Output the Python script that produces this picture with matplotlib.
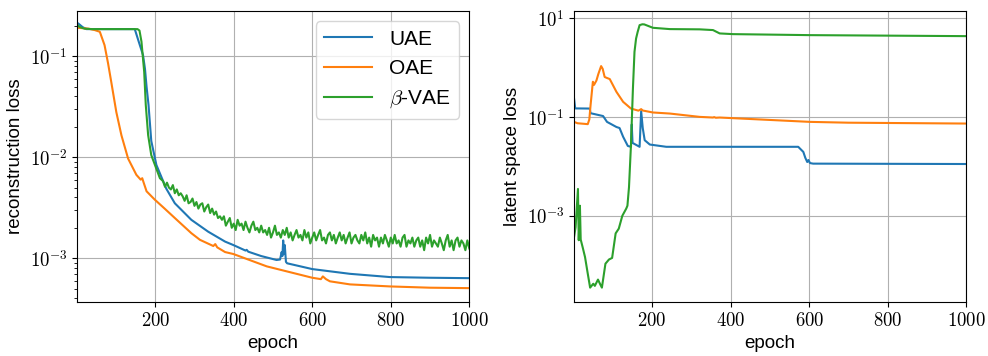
import numpy as np
import matplotlib
matplotlib.use("Agg")
from matplotlib import pyplot as plt
from matplotlib.ticker import FixedLocator, FuncFormatter, NullLocator, LogLocator

plt.rcParams['font.family'] = ['Liberation Sans', 'DejaVu Sans']
plt.rcParams['mathtext.fontset'] = 'cm'
plt.rcParams['font.size'] = 13.5

# ---- reconstruction loss (left) ----
uae_rec_ep = [1, 5, 15, 25, 148, 158, 169, 174, 178, 183, 190, 203, 228, 250, 292, 335, 378, 399,
              430, 433, 437, 470, 509, 518, 522, 524, 526, 528, 530, 533, 536, 600, 696, 798, 900, 1000]
uae_rec = [0.215, 0.21, 0.195, 0.186, 0.186, 0.14, 0.103, 0.075, 0.05, 0.033, 0.0145, 0.0084, 0.0049,
           0.0035, 0.0024, 0.00183, 0.00146, 0.00135, 0.00119, 0.00121, 0.00116, 0.00105, 0.00096,
           0.00097, 0.00115, 0.00105, 0.0015, 0.0011, 0.00135, 0.00092, 0.00089, 0.00078, 0.0007,
           0.00065, 0.00064, 0.000634]

oae_rec_ep = [1, 30, 46, 59, 71, 80, 88, 101, 114, 131, 152, 163, 167, 170, 178, 199, 224, 250, 292,
              314, 348, 353, 358, 378, 399, 484, 600, 622, 627, 635, 645, 696, 798, 900, 1000]
oae_rec = [0.192, 0.188, 0.182, 0.175, 0.129, 0.085, 0.056, 0.028, 0.0165, 0.0097, 0.0067, 0.0060,
           0.0062, 0.0057, 0.0046, 0.0038, 0.0031, 0.0025, 0.00177, 0.00152, 0.00132, 0.00138,
           0.00128, 0.00115, 0.0011, 0.00083, 0.00064, 0.00062, 0.00066, 0.00062, 0.00059, 0.00055,
           0.000525, 0.00051, 0.000505]

vae_rec_ep_a = [1, 8, 20, 40, 100, 155, 160, 165, 172, 176, 182, 190, 203, 212]
vae_rec_a = [0.205, 0.195, 0.188, 0.186, 0.186, 0.186, 0.18, 0.14, 0.07, 0.033, 0.0166, 0.0105,
             0.0077, 0.0062]
vae_rec_ep_b = list(range(220, 1001, 5))
vae_rec_b = [
    0.0058, 0.0051, 0.0056, 0.0050, 0.0048, 0.0053, 0.0044, 0.0048, 0.0042, 0.0044,
    0.0041, 0.0037, 0.0042, 0.0035, 0.0036, 0.0039, 0.0033, 0.0036, 0.0031, 0.0034,
    0.0035, 0.0029, 0.0032, 0.0034, 0.0028, 0.0031, 0.0027, 0.0029, 0.0025, 0.0026,
    0.0024, 0.0026, 0.0021, 0.0023, 0.0025, 0.0020, 0.0022, 0.0019, 0.0024, 0.0021,
    0.0022, 0.0019, 0.0023, 0.0020, 0.0018, 0.0021, 0.0023, 0.0019, 0.0020, 0.0018,
    0.0021, 0.0018, 0.0019, 0.0017, 0.0020, 0.0016, 0.0018, 0.0021, 0.0017, 0.0018,
    0.0016, 0.0019, 0.0017, 0.0020, 0.0016, 0.0018, 0.0015, 0.0017, 0.0019, 0.0016,
    0.0017, 0.0015, 0.0019, 0.0016, 0.0018, 0.0014, 0.0016, 0.0018, 0.0015, 0.0017,
    0.0019, 0.0015, 0.0016, 0.0014, 0.0017, 0.0018, 0.0015, 0.0017, 0.0014, 0.0016,
    0.0018, 0.0015, 0.0017, 0.0014, 0.0016, 0.0018, 0.0014, 0.0016, 0.0017, 0.0015,
    0.0014, 0.0017, 0.0015, 0.0018, 0.0014, 0.0016, 0.0013, 0.0017, 0.0015, 0.0016,
    0.0013, 0.0016, 0.0014, 0.0017, 0.0015, 0.0013, 0.0016, 0.0014, 0.0017, 0.0014,
    0.0015, 0.0013, 0.0016, 0.0017, 0.0013, 0.0015, 0.0014, 0.0016, 0.0013, 0.0015,
    0.0016, 0.0013, 0.0015, 0.0012, 0.0016, 0.0014, 0.0017, 0.0013, 0.0015, 0.0014,
    0.0013, 0.0016, 0.0014, 0.0012, 0.0015, 0.0017, 0.0013, 0.0015, 0.0012, 0.0015,
    0.0016, 0.0013, 0.0015, 0.0014, 0.0012, 0.0015, 0.00125]
vae_rec_ep = vae_rec_ep_a + vae_rec_ep_b
vae_rec = vae_rec_a + vae_rec_b

# ---- latent space loss (right) ----
uae_lat_ep = [1, 4, 41, 43, 75, 85, 109, 117, 126, 138, 146, 148, 150, 168, 172, 176, 181, 194,
              236, 572, 585, 590, 595, 598, 602, 610, 1000]
uae_lat = [0.24, 0.15, 0.149, 0.12, 0.105, 0.08, 0.063, 0.06, 0.04, 0.026, 0.025, 0.071, 0.03,
           0.025, 0.132, 0.06, 0.034, 0.0278, 0.025, 0.025, 0.0197, 0.015, 0.0123, 0.0135,
           0.0117, 0.0114, 0.0112]

oae_lat_ep = [1, 10, 36, 40, 43, 49, 52, 58, 63, 70, 74, 79, 85, 92, 109, 126, 146, 165, 172, 176,
              202, 245, 321, 355, 358, 362, 372, 602, 700, 1000]
oae_lat = [0.08, 0.075, 0.072, 0.09, 0.17, 0.52, 0.45, 0.55, 0.75, 1.08, 0.95, 0.65, 0.62, 0.59,
           0.325, 0.204, 0.149, 0.135, 0.145, 0.136, 0.124, 0.118, 0.101, 0.098, 0.1, 0.097,
           0.098, 0.08, 0.077, 0.074]

vae_lat_ep = [1, 5, 11, 13, 16, 18, 23, 29, 36, 42, 50, 54, 62, 67, 72, 81, 90, 98, 107, 115, 124,
              134, 137, 141, 146, 151, 155, 159, 163, 168, 175, 180, 202, 245, 321, 355, 372, 406,
              602, 1000]
vae_lat = [3.7e-4, 5.9e-4, 0.0035, 3.2e-4, 0.0016, 3.3e-4, 2.3e-4, 1.46e-4, 6.7e-5, 3.5e-5, 4.2e-5,
           3.8e-5, 5.1e-5, 4.2e-5, 3.5e-5, 1.07e-4, 1.3e-4, 1.4e-4, 4.4e-4, 5.5e-4, 1.0e-3,
           1.4e-3, 1.6e-3, 3.8e-3, 0.027, 0.38, 2.1, 3.9, 5.3, 7.3, 7.6, 7.55, 6.45, 6.07, 6.0,
           5.8, 4.96, 4.8, 4.58, 4.37]

labels = ['UAE', 'OAE', r'$\beta$-VAE']
colors = ['#1f77b4', '#ff7f0e', '#2ca02c']

fig = plt.figure(figsize=(9.88, 3.56), dpi=100)
ax1 = fig.add_axes([0.078, 0.152, 0.397, 0.817])
ax2 = fig.add_axes([0.581, 0.152, 0.397, 0.817])

ax1.plot(uae_rec_ep, uae_rec, color=colors[0], label=labels[0])
ax1.plot(oae_rec_ep, oae_rec, color=colors[1], label=labels[1])
ax1.plot(vae_rec_ep, vae_rec, color=colors[2], label=labels[2])

ax2.plot(uae_lat_ep, uae_lat, color=colors[0])
ax2.plot(oae_lat_ep, oae_lat, color=colors[1])
ax2.plot(vae_lat_ep, vae_lat, color=colors[2])

xfmt = FuncFormatter(lambda v, p: r'$%d$' % v)
yfmt = FuncFormatter(lambda v, p: r'$10^{%d}$' % int(round(np.log10(v))))

for ax in (ax1, ax2):
    ax.set_yscale('log')
    ax.set_xlim(1, 1000)
    ax.xaxis.set_major_locator(FixedLocator([200, 400, 600, 800, 1000]))
    ax.xaxis.set_major_formatter(xfmt)
    ax.yaxis.set_major_formatter(yfmt)
    ax.grid(True, which='major', color='#b0b0b0', linewidth=0.8)
    ax.set_xlabel('epoch')
    ax.tick_params(labelsize=13.5)

ax1.set_ylim(3.69e-4, 0.281)
ax1.yaxis.set_major_locator(FixedLocator([1e-3, 1e-2, 1e-1]))
ax1.yaxis.set_minor_locator(LogLocator(base=10, subs=np.arange(2, 10)))
ax1.yaxis.set_minor_formatter(FuncFormatter(lambda v, p: ''))
ax1.set_ylabel('reconstruction loss')

ax2.set_ylim(1.8e-5, 14.1)
ax2.yaxis.set_major_locator(FixedLocator([1e-3, 1e-1, 1e1]))
ax2.yaxis.set_minor_locator(NullLocator())
ax2.set_ylabel('latent space loss')

ax1.legend(loc='upper right', fontsize=15, handlelength=2.3)

fig.savefig('out.png', dpi=100)
